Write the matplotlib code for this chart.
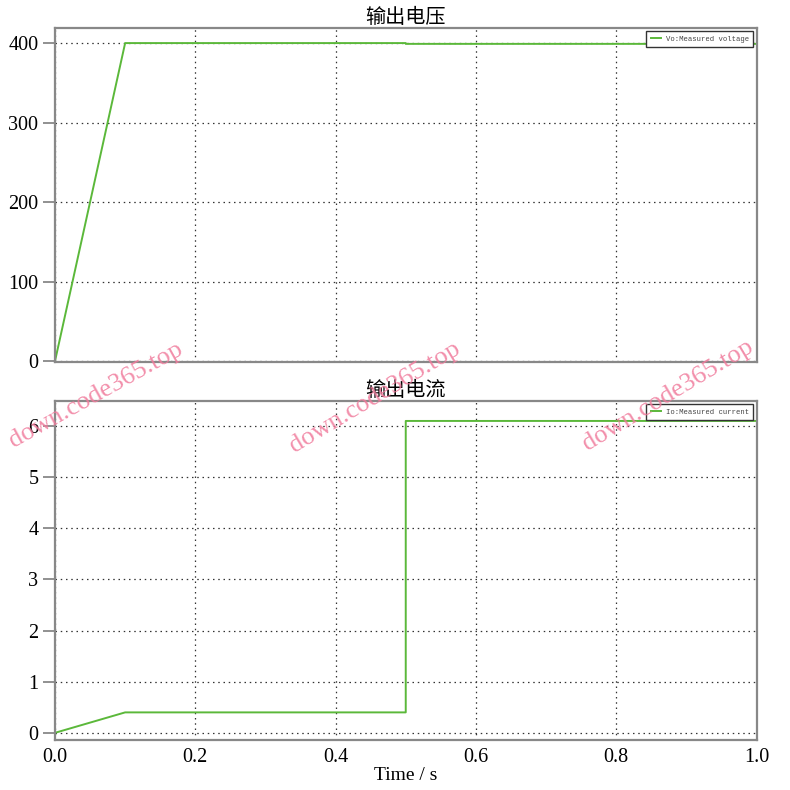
import matplotlib
matplotlib.use("Agg")
import matplotlib.pyplot as plt

# ---- data ----
t_voltage = [0.0, 0.1, 0.5, 0.5, 1.0]
voltage = [0.0, 400.0, 400.0, 399.0, 399.0]
t_current = [0.0, 0.1, 0.5, 0.5, 1.0]
current = [0.0, 0.4, 0.4, 6.1, 6.1]
x_ticks = [0.0, 0.2, 0.4, 0.6, 0.8, 1.0]
v_ticks = [0, 100, 200, 300, 400]
i_ticks = [0, 1, 2, 3, 4, 5, 6]
title_v = "输出电压"
title_i = "输出电流"
legend_v = "Vo:Measured voltage"
legend_i = "Io:Measured current"
xlabel = "Time / s"
watermark = "down.code365.top"

GREEN = "#5bb83a"
SPINE = "#888888"
serif = ["Liberation Serif", "DejaVu Serif"]
mono = ["Liberation Mono", "DejaVu Sans Mono"]
cjk = ["Noto Sans CJK SC", "DejaVu Sans"]

fig = plt.figure(figsize=(7.9, 7.9), dpi=100)
ax1 = fig.add_axes([0.0696, 0.5418, 0.888, 0.4228])
ax2 = fig.add_axes([0.0696, 0.0633, 0.888, 0.4291])

FS = 14.5

def style(ax, yticks, ylim, show_x):
    ax.set_xlim(0, 1.0)
    ax.set_ylim(*ylim)
    ax.set_xticks(x_ticks)
    ax.set_yticks(yticks)
    ax.grid(True, linestyle=(0, (1.2, 3)), color="#333333", linewidth=0.9)
    for s in ax.spines.values():
        s.set_color(SPINE)
        s.set_linewidth(1.6)
    ax.tick_params(axis="y", direction="out", length=9, width=1.3, color=SPINE,
                   labelsize=FS, pad=3)
    ax.tick_params(axis="x", length=0, labelsize=FS, pad=6)
    ax.set_yticklabels([str(v) for v in yticks], family=serif, fontsize=FS)
    if show_x:
        ax.set_xticklabels([f"{v:.1f}" for v in x_ticks], family=serif, fontsize=FS)
    else:
        ax.set_xticklabels([])

ax1.plot(t_voltage, voltage, color=GREEN, linewidth=1.4, label=legend_v)
style(ax1, v_ticks, (-1, 419), False)
ax1.set_title(title_v, family=cjk, fontsize=14.5, pad=3)

ax2.plot(t_current, current, color=GREEN, linewidth=1.4, label=legend_i)
style(ax2, i_ticks, (-0.14, 6.49), True)
ax2.set_title(title_i, family=cjk, fontsize=14.5, pad=3)
ax2.set_xlabel(xlabel, family=serif, fontsize=14, labelpad=0)

for ax in (ax1, ax2):
    leg = ax.legend(loc="upper right", handlelength=1.5,
                    handletextpad=0.6, borderpad=0.6, borderaxespad=0.45,
                    fancybox=False, framealpha=1.0,
                    prop={"family": mono, "size": 5.2})
    leg.get_frame().set_edgecolor("#333333")
    leg.get_frame().set_linewidth(1.0)
    for txt in leg.get_texts():
        txt.set_color("#444444")

# watermarks
for (x, y, r) in [(0.122, 0.500, 29), (0.475, 0.497, 31), (0.845, 0.500, 31)]:
    fig.text(x, y, watermark, rotation=r, ha="center", va="center",
             color="#f07b9c", alpha=0.85, fontsize=19, family=serif,
             rotation_mode="anchor")

fig.savefig("out.png", dpi=100)
